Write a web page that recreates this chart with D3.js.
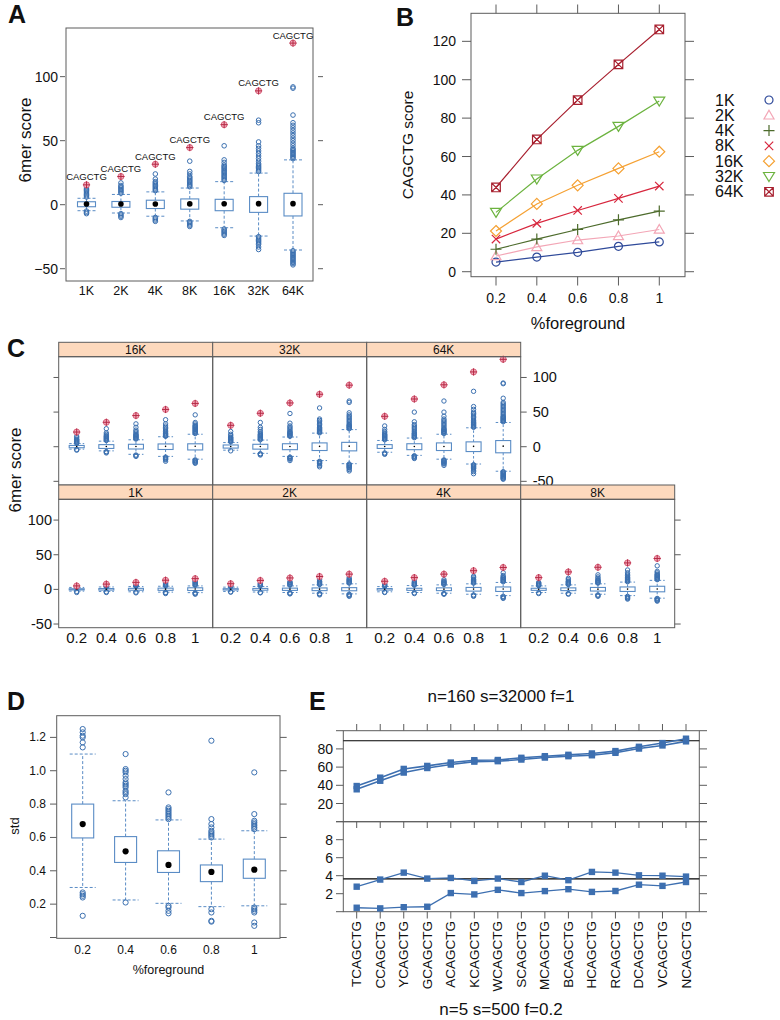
<!DOCTYPE html>
<html><head><meta charset="utf-8">
<script src="https://cdn.jsdelivr.net/npm/d3@7"></script>
<style>body{margin:0;background:#fff;} svg{display:block;font-family:"Liberation Sans",Arial,Helvetica,sans-serif;}</style>
</head><body><svg id="c" width="780" height="1020"></svg>
<script>
// ---------------- DATA ----------------
const sizes = ["1K","2K","4K","8K","16K","32K","64K"];
const fractions = [0.2,0.4,0.6,0.8,1];
const fractionLabels = ["0.2","0.4","0.6","0.8","1"];

// CAGCTG score per size across fractions (panel B, red marks in A and C)
const score1K  = [5.0, 7.6, 10.1, 13.2, 15.5];
const score2K  = [8.2, 12.9, 16.5, 18.6, 22.0];
const score4K  = [11.7, 17.0, 22.0, 27.0, 31.6];
const score8K  = [17.0, 25.2, 31.9, 38.2, 44.6];
const score16K = [21.2, 35.3, 45.0, 53.8, 62.5];
const score32K = [30.9, 48.3, 63.2, 75.7, 88.9];
const score64K = [43.9, 68.9, 89.4, 108.0, 126.2];

// box stats [lowWhisker, q1, median, q3, highWhisker] per fraction
const box1K  = [[-2.5,-0.8,0.2,0.9,2.8],[-3,-1,0.2,1.2,3.5],[-3.5,-1.2,0.3,1.5,4],[-4,-1.4,0.3,1.8,4.5],[-4.7,-1.6,0.5,2.3,5]];
const box2K  = [[-3,-0.9,0.2,1,3.2],[-3.8,-1.2,0.2,1.4,4.2],[-4.5,-1.5,0.3,1.8,5],[-5.5,-1.8,0.3,2.1,6.5],[-6.5,-2,0.5,2.5,8]];
const box4K  = [[-3.5,-1,0.2,1.2,4],[-4.5,-1.4,0.2,1.6,5.5],[-5.5,-1.8,0.3,2.2,6.5],[-7,-2.5,0.4,2.8,8],[-9,-3,0.5,3.5,10]];
const box8K  = [[-4.5,-1.4,0.2,1.6,5],[-5.5,-1.8,0.3,2.2,6.5],[-7,-2.4,0.3,2.8,8],[-9,-3,0.4,3.5,10.5],[-12.7,-3.5,0.6,4.5,13]];
const box16K = [[-3.5,-1.5,0.2,1.8,4.5],[-6,-2.5,0.3,3,8],[-11,-3.3,0.4,3.5,10],[-14,-4,0.5,4,14.4],[-18,-4.7,0.7,4.2,18]];
const box32K = [[-5,-2,0.2,2.5,6],[-9.6,-3.5,0.3,3.5,9.6],[-14,-4.3,0.4,4.3,14],[-20,-5.5,0.5,5.5,19.6],[-24.5,-6,0.8,6.3,24.7]];
const box64K = [[-8,-2.5,0.2,3,9],[-12.5,-4.3,0.3,4.3,12.5],[-18,-5.5,0.4,5.5,18],[-25,-7,0.5,7,27.3],[-35.4,-8.8,0.8,8.9,35]];

// outliers per fraction
const out1K  = [[3.2,3.6,4,-3,-4.5],[4,4.5,5,5.5,-3.5,-4.5],[4.5,5,5.5,6,7,8,-4,-5],[5,6,7,8,9,10,-4.5,-5,-6],[6,7,8,9,10,11,12,13,-5,-6,-7]];
const out2K  = [[4,4.5,5,6,-3.5,-4],[5,6,7,8,9,-4.5,-5],[6,7,8,9,10,11,-5,-6,-6.5],[7,8,9,10,11,12,14,-6,-7,-8],[9,10,11,12,13,14,15,17,-7,-8,-9,-10]];
const out4K  = [[4.5,5,6,7,8,-4,-4.5],[6,7,8,9,10,12,-5,-6],[7,8,9,10,11,12,14,-6,-6.5,-7],[9,10,11,12,13,14,15,17,19,-8,-9,-10],[11,12,13,14,15,16,17,18,20,24,-10,-11,-12,-13]];
const out8K  = [[5.5,6,7,8,9,10,-5,-6],[7,8,9,10,11,12,14,16,-6,-7],[9,10,11,12,13,14,16,18,21,-8,-9,-10],[11,12,13,14,15,16,17,18,20,22,24,28,-10,-11,-12,-13,-14],[14,15,16,17,18,19,20,21,22,24,26,34,-13,-14,-15,-16,-17]];
const out16K = [[5,6,7,8,9,10,11,13,15,-4,-5],[9,10,11,12,13,14,15,16,18,20,26,-7,-8,-9],[11,12,13,14,15,16,17,18,20,22,24,28,33,-12,-13,-14],[15,16,17,18,19,20,22,24,26,28,30,33,39,-15,-16,-17,-18,-19,-21],[19,20,21,22,23,24,25,26,27,28,29,30,31,33,35,46,-19,-20,-21,-22,-23,-24]];
const out32K = [[7,8,9,10,11,12,13,14,16,18,22,-6],[10,11,12,13,14,15,16,17,18,20,22,25,28,35,-10,-11,-12],[15,16,17,18,19,20,21,22,24,26,28,30,34,48,-15,-16,-17,-18,-20],[20,21,22,23,24,25,26,27,28,30,32,34,36,38,40,56,-21,-22,-23,-24,-25,-27,-29],[26,27,28,29,30,31,32,34,36,38,40,42,44,46,49,64,66,-25,-26,-27,-28,-29,-30,-31,-33,-35]];
const out64K = [[10,11,12,13,14,15,16,17,18,20,22,25,30,-9,-10,-11],[13,14,15,16,17,18,19,20,22,24,26,28,30,32,36,50,-13,-14,-15,-16,-17],[19,20,21,22,23,24,25,26,28,30,32,34,36,38,40,44,50,66,-19,-20,-21,-22,-23,-24,-25,-27],[28,29,30,31,32,33,34,35,36,38,40,42,44,46,48,50,54,58,80,-26,-27,-28,-29,-30,-31,-32,-34,-36,-39],[36,37,38,39,40,41,42,43,44,46,48,50,52,54,56,58,60,62,64,70,91,92,-36,-37,-38,-39,-40,-41,-42,-43,-44,-45,-46,-47]];

// Panel D: std per fraction
const stdBox = [[0.3,0.597,0.68,0.8,1.1],[0.225,0.45,0.517,0.605,0.82],[0.205,0.39,0.435,0.52,0.705],[0.185,0.335,0.393,0.435,0.59],[0.19,0.355,0.407,0.47,0.64]];
const stdOut = [[1.14,1.17,1.2,1.21,1.23,1.25,0.27,0.26,0.25,0.24,0.13],
                [0.84,0.86,0.87,0.88,0.9,0.91,0.92,0.93,0.95,0.97,0.99,1.0,1.01,1.1,0.21],
                [0.71,0.72,0.73,0.74,0.75,0.76,0.77,0.78,0.87,0.19,0.18,0.16,0.145],
                [0.6,0.61,0.62,0.63,0.64,0.66,0.68,0.71,1.18,0.17,0.15,0.1,0.095],
                [0.65,0.66,0.67,0.68,0.69,0.7,0.74,0.99,0.18,0.17,0.16,0.15,0.09,0.07]];

// Panel E
const eCats = ["TCAGCTG","CCAGCTG","YCAGCTG","GCAGCTG","ACAGCTG","KCAGCTG","WCAGCTG","SCAGCTG","MCAGCTG","BCAGCTG","HCAGCTG","RCAGCTG","DCAGCTG","VCAGCTG","NCAGCTG"];
const eBigUpper = [39.2,48.4,58,61.3,65,67.6,67.8,70.2,72,73.5,75,77.6,82.3,86.4,91.2];
const eBigLower = [35.6,45,54,59,62.8,66,66.5,68.3,70.5,72,73,75.7,80.4,83.8,88.3];
const eBigRef = 88.9;
const eSmallUpper = [2.78,3.57,4.34,3.68,3.75,3.42,3.68,3.3,4.0,3.5,4.42,4.34,4.04,4.0,3.9];
const eSmallLower = [0.44,0.37,0.5,0.55,2.07,1.92,2.43,2.07,2.29,2.5,2.2,2.3,3.0,2.87,3.3];
const eSmallRef = 3.65;

// ---------------- lookups ----------------
const scoreBy = {"1K":score1K,"2K":score2K,"4K":score4K,"8K":score8K,"16K":score16K,"32K":score32K,"64K":score64K};
const boxBy = {"1K":box1K,"2K":box2K,"4K":box4K,"8K":box8K,"16K":box16K,"32K":box32K,"64K":box64K};
const outBy = {"1K":out1K,"2K":out2K,"4K":out4K,"8K":out8K,"16K":out16K,"32K":out32K,"64K":out64K};

// ---------------- helpers ----------------
const svg = d3.select("#c");
const BLUE_PT = "#3b70b0", BLUE_BOX = "#5a8cc5", FRAME = "#5c5c5c";

function txt(g, x, y, s, size, anchor, extra) {
  const t = g.append("text").attr("x", x).attr("y", y).text(s)
    .attr("font-size", size).attr("text-anchor", anchor || "start")
    .attr("dominant-baseline", "central").attr("fill", "#111");
  if (extra) extra(t);
  return t;
}
function vtxt(g, x, y, s, size, anchor) {
  return g.append("text").attr("transform", `translate(${x},${y}) rotate(-90)`)
    .attr("text-anchor", anchor || "middle").attr("dominant-baseline", "central")
    .attr("font-size", size).attr("fill", "#111").text(s);
}
function line(g, x1, y1, x2, y2, col, w, dash) {
  const l = g.append("line").attr("x1", x1).attr("y1", y1).attr("x2", x2).attr("y2", y2)
    .attr("stroke", col || FRAME).attr("stroke-width", w || 1);
  if (dash) l.attr("stroke-dasharray", dash);
  return l;
}
function frame(g, x0, y0, x1, y1) {
  g.append("rect").attr("x", x0).attr("y", y0).attr("width", x1 - x0).attr("height", y1 - y0)
    .attr("fill", "none").attr("stroke", FRAME).attr("stroke-width", 1);
}
function redMark(g, x, y, r) {
  g.append("circle").attr("cx", x).attr("cy", y).attr("r", r)
    .attr("fill", "#f3aabb").attr("stroke", "#d45670").attr("stroke-width", 0.9);
  g.append("path").attr("d", `M${x - r - 0.6},${y}H${x + r + 0.6}M${x},${y - r - 0.6}V${y + r + 0.6}`)
    .attr("stroke", "#b52a45").attr("stroke-width", 1);
}
function drawBox(g, x, stats, outs, ys, o) {
  const [lo, q1, med, q3, hi] = stats;
  const hw = o.bw / 2, cw = o.cw / 2;
  const dash = o.dash || "3,2";
  line(g, x, ys(q3), x, ys(hi), BLUE_BOX, 1, dash);
  line(g, x, ys(q1), x, ys(lo), BLUE_BOX, 1, dash);
  line(g, x - cw, ys(hi), x + cw, ys(hi), BLUE_BOX, 1, dash);
  line(g, x - cw, ys(lo), x + cw, ys(lo), BLUE_BOX, 1, dash);
  g.append("rect").attr("x", x - hw).attr("y", ys(q3)).attr("width", o.bw)
    .attr("height", Math.max(0.5, ys(q1) - ys(q3)))
    .attr("fill", "none").attr("stroke", BLUE_BOX).attr("stroke-width", 1.1);
  g.selectAll(null).data(outs).enter().append("circle")
    .attr("cx", x).attr("cy", d => ys(d)).attr("r", o.r)
    .attr("fill", "none").attr("stroke", BLUE_PT).attr("stroke-width", 1);
  g.append("circle").attr("cx", x).attr("cy", ys(med)).attr("r", o.medR).attr("fill", "#000");
}

// ================= PANEL A =================
(function () {
  const g = svg.append("g");
  const x = d3.scalePoint().domain(sizes).range([86.5, 293]);
  const y = d3.scaleLinear().domain([-59.6, 138]).range([281, 28]);
  [-50, 0, 50, 100].forEach(v => {
    line(g, 60, y(v), 65, y(v));
    line(g, 318, y(v), 323, y(v));
    txt(g, 58, y(v), d3.format("d")(v), 14, "end");
  });
  frame(g, 66, 28, 313, 281);
  sizes.forEach(s => {
    const i = 4;
    drawBox(g, x(s), boxBy[s][i], outBy[s][i], y, {bw: 18, cw: 18, r: 2.3, medR: 2.8});
    const sv = scoreBy[s][i];
    redMark(g, x(s), y(sv), 3);
    txt(g, x(s), y(sv) - 8, "CAGCTG", 9.5, "middle");
    txt(g, x(s), 291, s, 12.5, "middle");
  });
  vtxt(g, 25, 140, "6mer score", 17);
  txt(g, 8, 14, "A", 25, "start", t => t.attr("font-weight", "bold"));
})();

// ================= PANEL B =================
(function () {
  const g = svg.append("g");
  const x = d3.scaleLinear().domain([0.0775, 1.126]).range([471, 685]);
  const y = d3.scaleLinear().domain([-2.6, 134.6]).range([276.7, 13.3]);
  [0, 20, 40, 60, 80, 100, 120].forEach(v => {
    line(g, 462, y(v), 471, y(v));
    line(g, 685, y(v), 694, y(v));
    txt(g, 456, y(v), v, 14, "end");
  });
  fractions.forEach((f, i) => {
    line(g, x(f), 4.5, x(f), 13.3);
    line(g, x(f), 276.7, x(f), 285.5);
    txt(g, x(f), 298, fractionLabels[i], 14, "middle");
  });
  frame(g, 471, 13.3, 685, 276.7);
  const cols = {"1K":"#2f4a9a","2K":"#f3a6b6","4K":"#4d6b2c","8K":"#d7263d","16K":"#f5a133","32K":"#6cb33f","64K":"#a8202f"};
  const sym = {
    "1K": "M4,0A4,4 0 1,1 -4,0A4,4 0 1,1 4,0Z",
    "2K": "M0,-5L5,3.7L-5,3.7Z",
    "4K": "M-5.5,0H5.5M0,-5.5V5.5",
    "8K": "M-4.2,-4.2L4.2,4.2M-4.2,4.2L4.2,-4.2",
    "16K": "M0,-5.5L5.5,0L0,5.5L-5.5,0Z",
    "32K": "M0,5L5.5,-4L-5.5,-4Z",
    "64K": "M-4.3,-4.3H4.3V4.3H-4.3ZM-4.3,-4.3L4.3,4.3M-4.3,4.3L4.3,-4.3"
  };
  const lineGen = d3.line().x((d, i) => x(fractions[i])).y(d => y(d));
  sizes.forEach(s => {
    g.append("path").attr("d", lineGen(scoreBy[s])).attr("fill", "none")
      .attr("stroke", cols[s]).attr("stroke-width", 1.2);
    scoreBy[s].forEach((v, i) => {
      g.append("path").attr("d", sym[s]).attr("transform", `translate(${x(fractions[i])},${y(v)})`)
        .attr("fill", "none").attr("stroke", cols[s]).attr("stroke-width", 1.2);
    });
  });
  sizes.forEach((s, i) => {
    const yy = 100 + i * 15.3;
    txt(g, 715, yy, s, 16, "start");
    g.append("path").attr("d", sym[s]).attr("transform", `translate(769,${yy})`)
      .attr("fill", "none").attr("stroke", cols[s]).attr("stroke-width", 1.2);
  });
  vtxt(g, 407, 145, "CAGCTG score", 15.5);
  txt(g, 578, 323, "%foreground", 16.5, "middle");
  txt(g, 396, 17, "B", 25, "start", t => t.attr("font-weight", "bold"));
})();

// ================= PANEL C =================
(function () {
  const g = svg.append("g");
  const pw = 154, x0 = 58.7;
  const rows = [
    {panels: ["16K", "32K", "64K"], stripTop: 342.3, top: 356.7, bottom: 485},
    {panels: ["1K", "2K", "4K", "8K"], stripTop: 485, top: 499.3, bottom: 627.7}
  ];
  rows.forEach((row, ri) => {
    const y = d3.scaleLinear().domain([-55.3, 130]).range([row.bottom, row.top]);
    row.panels.forEach((s, pi) => {
      const left = x0 + pi * pw, right = left + pw;
      const x = d3.scalePoint().domain(fractions).range([left + 18, right - 17.5]);
      g.append("rect").attr("x", left).attr("y", row.stripTop).attr("width", pw)
        .attr("height", row.top - row.stripTop).attr("fill", "#fdd9bd")
        .attr("stroke", FRAME).attr("stroke-width", 1);
      txt(g, (left + right) / 2, (row.stripTop + row.top) / 2 + 0.5, s, 12, "middle");
      fractions.forEach((f, i) => {
        drawBox(g, x(f), boxBy[s][i], outBy[s][i], y, {bw: 15, cw: 15, r: 2.2, medR: 0.8, dash: "2.5,2"});
        redMark(g, x(f), y(scoreBy[s][i]), 3);
        if (ri === 1) txt(g, x(f), 637, fractionLabels[i], 15, "middle");
      });
      frame(g, left, row.top, right, row.bottom);
    });
    const last = x0 + row.panels.length * pw;
    [-50, 0, 50, 100].forEach(v => {
      line(g, 53.5, y(v), x0, y(v));
      line(g, last, y(v), last + 6, y(v));
      if (ri === 0) txt(g, last + 12, y(v), v, 14.5, "start");
      else txt(g, 52, y(v), v, 14.5, "end");
    });
  });
  vtxt(g, 15, 470, "6mer score", 17);
  txt(g, 7, 348, "C", 25, "start", t => t.attr("font-weight", "bold"));
})();

// ================= PANEL D =================
(function () {
  const g = svg.append("g");
  const x = d3.scalePoint().domain(fractions).range([82.7, 254.3]);
  const y = d3.scaleLinear().domain([0, 1.33]).range([937.5, 715.7]);
  [0, 0.2, 0.4, 0.6, 0.8, 1.0, 1.2].forEach(v => {
    line(g, 50, y(v), 56.7, y(v));
    line(g, 280, y(v), 286.7, y(v));
    if (v > 0) txt(g, 46, y(v), d3.format(".1f")(v), 12, "end");
  });
  frame(g, 56.7, 715.7, 280, 938.3);
  fractions.forEach((f, i) => {
    drawBox(g, x(f), stdBox[i], stdOut[i], y, {bw: 22, cw: 26, r: 2.6, medR: 3.1});
    txt(g, x(f), 949.5, fractionLabels[i], 12, "middle");
  });
  txt(g, 168.5, 970, "%foreground", 12.5, "middle");
  vtxt(g, 14, 826, "std", 13);
  txt(g, 7, 701, "D", 25, "start", t => t.attr("font-weight", "bold"));
})();

// ================= PANEL E =================
(function () {
  const g = svg.append("g");
  const L = 343.3, R = 699.3;
  const x = d3.scalePoint().domain(eCats).range([356.7, 686]);
  const yTop = d3.scaleLinear().domain([0, 100]).range([821.7, 730.7]);
  const yBot = d3.scaleLinear().domain([0, 10]).range([911.7, 821.7]);
  [0, 20, 40, 60, 80, 100].forEach(v => {
    line(g, 336, yTop(v), L, yTop(v));
    line(g, R, yTop(v), 707, yTop(v));
    if (v > 0 && v < 100) txt(g, 333, yTop(v), v, 14, "end");
  });
  [0, 2, 4, 6, 8, 10].forEach(v => {
    line(g, 336, yBot(v), L, yBot(v));
    line(g, R, yBot(v), 707, yBot(v));
    if (v > 0 && v < 10) txt(g, 333, yBot(v), v, 14, "end");
  });
  eCats.forEach(c => {
    line(g, x(c), 724, x(c), 730.7);
    line(g, x(c), 821.7, x(c), 828);
    line(g, x(c), 911.7, x(c), 918.5);
    vtxt(g, x(c), 921, c, 13.5, "end");
  });
  frame(g, L, 730.7, R, 821.7);
  frame(g, L, 821.7, R, 911.7);
  line(g, L, yTop(eBigRef), R, yTop(eBigRef), "#000", 1.1);
  line(g, L, yBot(eSmallRef), R, yBot(eSmallRef), "#000", 1.1);
  const col = "#3d6fb0";
  function series(vals, ys, w) {
    const lg = d3.line().x((d, i) => x(eCats[i])).y(d => ys(d));
    g.append("path").attr("d", lg(vals)).attr("fill", "none").attr("stroke", col).attr("stroke-width", w);
    g.selectAll(null).data(vals).enter().append("rect")
      .attr("x", (d, i) => x(eCats[i]) - 3.2).attr("y", d => ys(d) - 3.2)
      .attr("width", 6.4).attr("height", 6.4).attr("fill", col);
  }
  series(eBigUpper, yTop, 1.6);
  series(eBigLower, yTop, 1.6);
  series(eSmallUpper, yBot, 1.3);
  series(eSmallLower, yBot, 1.3);
  txt(g, 501, 696, "n=160 s=32000 f=1", 17, "middle");
  txt(g, 501, 1009, "n=5 s=500 f=0.2", 17, "middle");
  txt(g, 309, 701, "E", 25, "start", t => t.attr("font-weight", "bold"));
})();
</script></body></html>
